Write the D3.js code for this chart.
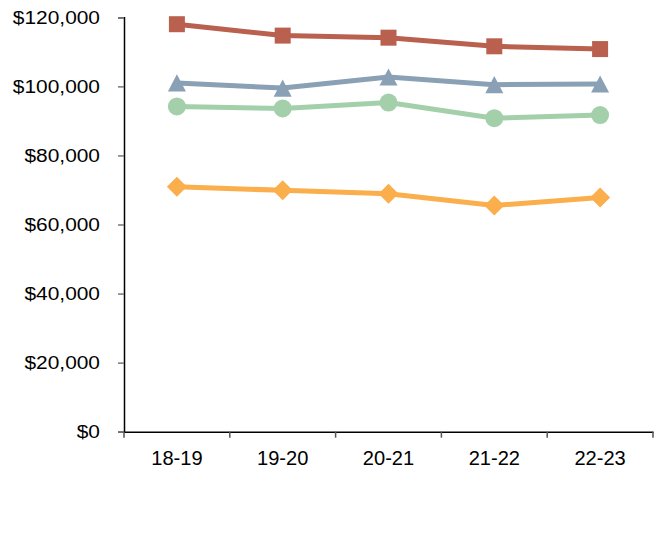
<!DOCTYPE html>
<html>
<head>
<meta charset="utf-8">
<script src="https://cdn.jsdelivr.net/npm/d3@7"></script>
<style>
  html, body { margin: 0; padding: 0; background: #fff; }
  text { font-family: "Liberation Sans", Arial, sans-serif; }
</style>
</head>
<body>
<svg id="chart" width="655" height="554"></svg>
<script>
const categories = ["18-19", "19-20", "20-21", "21-22", "22-23"];
const redValues = [118000, 114700, 114100, 111600, 110800];
const blueValues = [101000, 99500, 102700, 100500, 100700];
const greenValues = [94200, 93600, 95300, 90800, 91700];
const orangeValues = [70900, 69900, 68900, 65500, 67800];
const yTicks = [0, 20000, 40000, 60000, 80000, 100000, 120000];

// custom marker shapes (size = width in px)
const boxTriangle = { draw(ctx, size) { const w = Math.sqrt(size) / 2; ctx.moveTo(0, -w * 0.95); ctx.lineTo(w, w * 0.95); ctx.lineTo(-w, w * 0.95); ctx.closePath(); } };
const squareDiamond = { draw(ctx, size) { const r = Math.sqrt(size) / 2; ctx.moveTo(0, -r); ctx.lineTo(r, 0); ctx.lineTo(0, r); ctx.lineTo(-r, 0); ctx.closePath(); } };

const series = [
  { values: redValues, color: "#B9604F", symbol: d3.symbolSquare, size: 256 },
  { values: blueValues, color: "#8AA0B4", symbol: boxTriangle, size: 324 },
  { values: greenValues, color: "#A3D0AA", symbol: d3.symbolCircle, size: 254 },
  { values: orangeValues, color: "#FBAE4C", symbol: squareDiamond, size: 400 }
];

const svg = d3.select("#chart");
const mLeft = 124, mRight = 653, mTop = 17.3, mBottom = 431.7;

const x = d3.scaleBand().domain(categories).range([mLeft, mRight]);
const y = d3.scaleLinear().domain([0, 120000]).range([mBottom, mTop]);

// Y axis
const yAxis = d3.axisLeft(y).tickValues(yTicks).tickSizeOuter(0).tickSize(6).tickPadding(18)
  .tickFormat(d => "$" + d3.format(",")(d));
const gy = svg.append("g").attr("transform", `translate(${mLeft},0)`).call(yAxis);
gy.select(".domain").attr("stroke", "#000").attr("stroke-width", 1.5);
gy.selectAll(".tick line").attr("stroke", "#777").attr("stroke-width", 1.5);
gy.selectAll(".tick text").attr("font-size", 19).attr("fill", "#000")
  .attr("font-family", "'Liberation Sans', Arial, sans-serif")
  .attr("x", 0)
  .attr("transform", "translate(-24,0) scale(1.1,1)");

// X axis
const xAxis = d3.axisBottom(x).tickSize(0).tickPadding(19);
const gx = svg.append("g").attr("transform", `translate(0,${mBottom})`).call(xAxis);
gx.select(".domain").attr("stroke", "#000").attr("stroke-width", 1.5);
gx.selectAll(".tick text").attr("font-size", 19.5).attr("fill", "#000")
  .attr("font-family", "'Liberation Sans', Arial, sans-serif")
  .attr("transform", "scale(1.03,1)");
// boundary ticks
const bounds = categories.map(c => x(c)).concat([x(categories[categories.length - 1]) + x.bandwidth()]);
gx.selectAll("line.bound").data(bounds).enter().append("line")
  .attr("class", "bound")
  .attr("x1", d => d).attr("x2", d => d)
  .attr("y1", 0).attr("y2", 6)
  .attr("stroke", "#555").attr("stroke-width", 1.5);

const cx = c => x(c) + x.bandwidth() / 2;
const line = d3.line().x((d, i) => cx(categories[i])).y(d => y(d));

series.forEach(s => {
  svg.append("path").datum(s.values)
    .attr("d", line)
    .attr("fill", "none")
    .attr("stroke", s.color)
    .attr("stroke-width", 5);
  svg.selectAll(null).data(s.values).enter().append("path")
    .attr("d", d3.symbol().type(s.symbol).size(s.size))
    .attr("transform", (d, i) => `translate(${cx(categories[i])},${y(d)})`)
    .attr("fill", s.color);
});
</script>
</body>
</html>
